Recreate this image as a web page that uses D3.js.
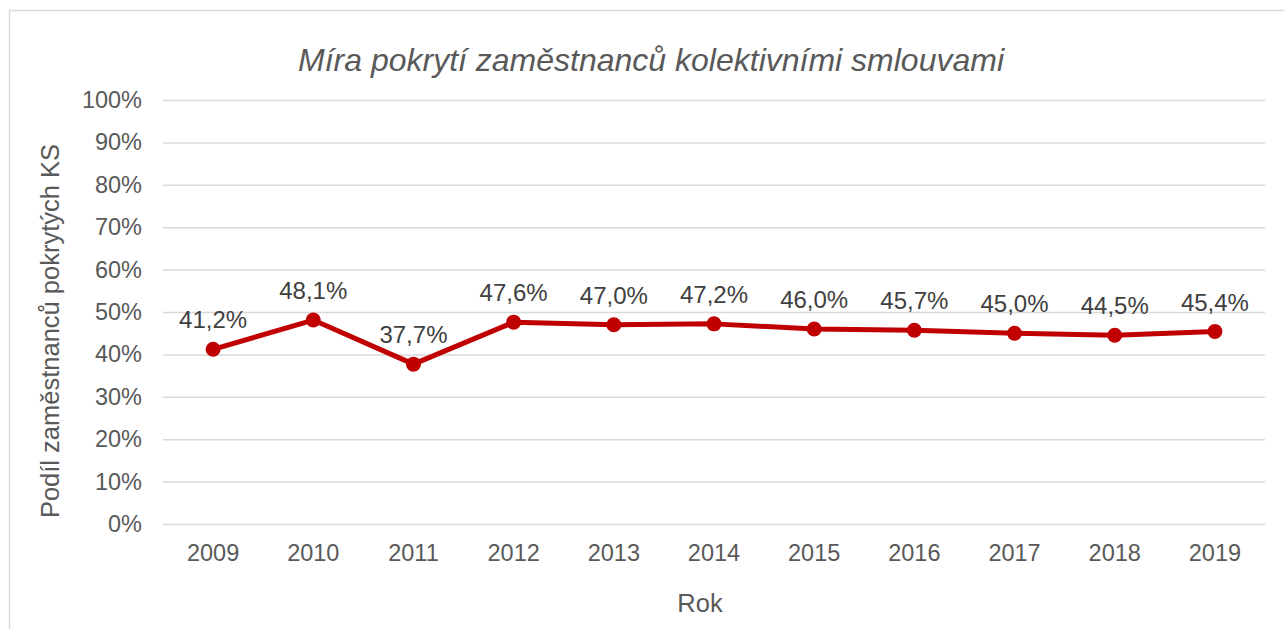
<!DOCTYPE html>
<html>
<head>
<meta charset="utf-8">
<script src="https://cdn.jsdelivr.net/npm/d3@7"></script>
<style>
  html, body { margin: 0; padding: 0; background: #ffffff; }
  svg { display: block; font-family: "Liberation Sans", Arial, sans-serif; }
</style>
</head>
<body>
<svg id="chart" width="1284" height="629"></svg>
<script>
// Coverage of employees by collective agreements, 2009–2019
const years = ["2009", "2010", "2011", "2012", "2013", "2014", "2015", "2016", "2017", "2018", "2019"];
const coverage = [41.2, 48.1, 37.7, 47.6, 47.0, 47.2, 46.0, 45.7, 45.0, 44.5, 45.4];
const yTicks = [0, 10, 20, 30, 40, 50, 60, 70, 80, 90, 100];
const titleText = "Míra pokrytí zaměstnanců kolektivními smlouvami";
const xTitleText = "Rok";
const yTitleText = "Podíl zaměstnanců pokrytých KS";

const svg = d3.select("#chart");
const plot = { left: 163, right: 1265, top: 100, bottom: 524 };

// Chart frame (open at right and bottom edges of the page)
svg.append("rect")
  .attr("x", 9.5).attr("y", 10.5)
  .attr("width", 1300).attr("height", 640)
  .attr("fill", "#ffffff")
  .attr("stroke", "#d9d9d9").attr("stroke-width", 1.5);

const x = d3.scaleBand().domain(years).range([plot.left, plot.right]);
const y = d3.scaleLinear().domain([0, 100]).range([plot.bottom, plot.top]);

// Horizontal gridlines and y tick labels
const yAxis = d3.axisLeft(y)
  .tickValues(yTicks)
  .tickSize(-(plot.right - plot.left))
  .tickPadding(21)
  .tickFormat(d => d + "%");
const gy = svg.append("g").attr("transform", `translate(${plot.left},0)`).call(yAxis);
gy.select(".domain").remove();
gy.selectAll(".tick line").attr("stroke", "#d9d9d9").attr("stroke-width", 1.5);
gy.selectAll(".tick text").attr("fill", "#595959").attr("font-size", 23.5);

// Category labels
const xAxis = d3.axisBottom(x).tickSize(0).tickPadding(20);
const gx = svg.append("g").attr("transform", `translate(0,${plot.bottom})`).call(xAxis);
gx.select(".domain").remove();
gx.selectAll(".tick text").attr("fill", "#595959").attr("font-size", 23.5);

const cx = d => x(d) + x.bandwidth() / 2;
const pts = years.map((yr, i) => ({ yr, v: coverage[i] }));

// Series line
svg.append("path")
  .datum(pts)
  .attr("fill", "none")
  .attr("stroke", "#c00000")
  .attr("stroke-width", 5)
  .attr("stroke-linejoin", "round")
  .attr("d", d3.line().x(d => cx(d.yr)).y(d => y(d.v)));

// Markers
svg.append("g").selectAll("circle")
  .data(pts).join("circle")
  .attr("cx", d => cx(d.yr))
  .attr("cy", d => y(d.v))
  .attr("r", 7.5)
  .attr("fill", "#c00000");

// Value labels
svg.append("g").selectAll("text")
  .data(pts).join("text")
  .attr("x", d => cx(d.yr))
  .attr("y", d => y(d.v) - 21)
  .attr("text-anchor", "middle")
  .attr("fill", "#404040")
  .attr("font-size", 24)
  .text(d => d.v.toFixed(1).replace(".", ",") + "%");

// Titles
svg.append("text")
  .attr("x", 651).attr("y", 71)
  .attr("text-anchor", "middle")
  .attr("fill", "#595959")
  .attr("font-size", 32)
  .attr("font-style", "italic")
  .text(titleText);

svg.append("text")
  .attr("x", 700).attr("y", 612)
  .attr("text-anchor", "middle")
  .attr("fill", "#595959")
  .attr("font-size", 25.5)
  .text(xTitleText);

svg.append("text")
  .attr("transform", "translate(59,331) rotate(-90)")
  .attr("text-anchor", "middle")
  .attr("fill", "#595959")
  .attr("font-size", 25.5)
  .text(yTitleText);
</script>
</body>
</html>
